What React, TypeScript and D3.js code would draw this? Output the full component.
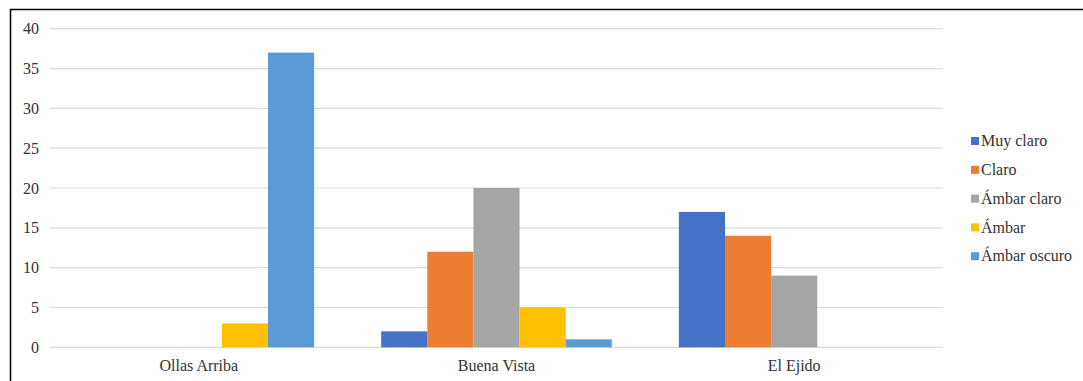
import React from "react";
import * as d3 from "d3";

const categories = ["Ollas Arriba", "Buena Vista", "El Ejido"];
const seriesNames = ["Muy claro", "Claro", "Ámbar claro", "Ámbar", "Ámbar oscuro"];
const seriesColors = ["#4472C4", "#ED7D31", "#A5A5A5", "#FFC000", "#5B9BD5"];
const muyClaro = [0, 2, 17];
const claro = [0, 12, 14];
const ambarClaro = [0, 20, 9];
const ambar = [3, 5, 0];
const ambarOscuro = [37, 1, 0];
const yTicks = [0, 5, 10, 15, 20, 25, 30, 35, 40];

const seriesValues = [muyClaro, claro, ambarClaro, ambar, ambarOscuro];

export default function App() {
  const W = 1083, H = 381;
  const left = 50, right = 943, top = 28.7, bottom = 347.3;
  const x0 = d3.scaleBand().domain(categories).range([left, right]).paddingInner(0.2254).paddingOuter(0.1127);
  const y = d3.scaleLinear().domain([0, 40]).range([bottom, top]);
  const x1 = d3.scaleBand().domain(seriesNames).range([0, x0.bandwidth()]);
  const font = "Liberation Serif";
  const fs = 16;
  const txt = "#333333";
  return (
    <svg width={W} height={H} style={{ position: "absolute", left: 0, top: 0, background: "#fff" }}>
      <rect x={0} y={0} width={W} height={H} fill="#fff" />
      {yTicks.map((t) => (
        <g key={t}>
          <line x1={left} x2={right} y1={y(t)} y2={y(t)} stroke="#D9D9D9" strokeWidth={1.2} />
          <text x={39} y={y(t)} dy="0.35em" textAnchor="end" fontFamily={font} fontSize={fs} fill={txt}>{t}</text>
        </g>
      ))}
      {categories.map((c, ci) => (
        <g key={c}>
          {seriesNames.map((s, si) => {
            const v = seriesValues[si][ci];
            if (!v) return null;
            return (
              <rect key={s} x={(x0(c) as number) + (x1(s) as number)} y={y(v)} width={x1.bandwidth()} height={y(0) - y(v)} fill={seriesColors[si]} />
            );
          })}
          <text x={(x0(c) as number) + x0.bandwidth() / 2} y={370.5} textAnchor="middle" fontFamily={font} fontSize={fs} fill={txt}>{c}</text>
        </g>
      ))}
      {seriesNames.map((s, i) => (
        <g key={s} transform={`translate(971, ${141 + i * 28.8})`}>
          <rect x={0} y={-4} width={8} height={8} fill={seriesColors[i]} />
          <text x={10} y={0} dy="0.33em" fontFamily={font} fontSize={fs} fill={txt}>{s}</text>
        </g>
      ))}
      <line x1={10} x2={W} y1={9.5} y2={9.5} stroke="#000" strokeWidth={1.5} />
      <line x1={10.5} x2={10.5} y1={9} y2={H} stroke="#000" strokeWidth={1.5} />
    </svg>
  );
}
